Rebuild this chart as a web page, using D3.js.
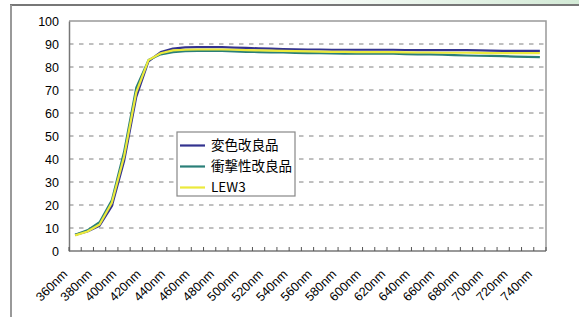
<!DOCTYPE html>
<html>
<head>
<meta charset="utf-8">
<script src="https://cdn.jsdelivr.net/npm/d3@7"></script>
<style>
body { margin: 0; background: #fff; }
.axis-text { font-family: "Liberation Sans", Arial, sans-serif; font-size: 12.5px; fill: #000; }
.legend-text { font-family: "Noto Sans CJK JP", sans-serif; font-size: 13.5px; fill: #000; }
</style>
</head>
<body>
<svg id="chart" width="579" height="317"></svg>
<script>
// wavelengths, 10nm step
var wavelengths = [360,370,380,390,400,410,420,430,440,450,460,470,480,490,500,510,520,530,540,550,
                   560,570,580,590,600,610,620,630,640,650,660,670,680,690,700,710,720,730,740];
var yTicks = [0,10,20,30,40,50,60,70,80,90,100];

var henshoku = [7,8.5,11,19.5,39,67,82.5,86.5,88,88.5,88.6,88.6,88.6,88.4,88.3,88.1,88,87.8,87.7,87.6,
                87.6,87.5,87.5,87.5,87.5,87.5,87.5,87.4,87.3,87.3,87.3,87.3,87.3,87.2,87.1,87,87,87,87];
var shougeki = [7,9,12.5,22,43,71,83,85.5,86.5,86.9,87,87,87,86.8,86.6,86.5,86.4,86.3,86.1,86,
                86,85.9,85.8,85.8,85.8,85.8,85.8,85.6,85.5,85.5,85.4,85.2,85,84.9,84.8,84.7,84.5,84.4,84.3];
var lew3 = [6.8,8.5,11.5,21,41,69,83,86,87.2,87.5,87.6,87.6,87.6,87.5,87.3,87.2,87.1,87,86.9,86.8,
            86.7,86.6,86.6,86.5,86.5,86.5,86.5,86.4,86.3,86.3,86.2,86.2,86.2,86.1,86,86,86,86,86];

var seriesNames = ["変色改良品", "衝撃性改良品", "LEW3"];
var seriesColors = ["#33338f", "#2a7f78", "#ecea3c"];

var svg = d3.select("#chart");
var plotL = 69, plotR = 546, plotT = 21, plotB = 251;

// top band + outer frame
var grad = svg.append("defs").append("linearGradient").attr("id", "topband");
grad.append("stop").attr("offset", "0%").attr("stop-color", "#ffffff");
grad.append("stop").attr("offset", "45%").attr("stop-color", "#ffffff");
grad.append("stop").attr("offset", "100%").attr("stop-color", "#d3ead6");
svg.append("rect").attr("x", 11).attr("y", 0).attr("width", 568).attr("height", 5).attr("fill", "url(#topband)");
svg.append("line").attr("x1", 10).attr("x2", 579).attr("y1", 5).attr("y2", 5)
    .attr("stroke", "#777").attr("stroke-width", 2);
svg.append("line").attr("x1", 11).attr("x2", 11).attr("y1", 5).attr("y2", 317)
    .attr("stroke", "#999").attr("stroke-width", 2);

var x = d3.scaleBand().domain(wavelengths).range([plotL, plotR]);
var y = d3.scaleLinear().domain([0, 100]).range([plotB, plotT]);

// gridlines
svg.append("g").selectAll("line")
    .data(yTicks.filter(function (d) { return d > 0 && d < 100; }))
    .enter().append("line")
    .attr("x1", plotL).attr("x2", plotR)
    .attr("y1", function (d) { return y(d); })
    .attr("y2", function (d) { return y(d); })
    .attr("stroke", "#808080")
    .attr("stroke-dasharray", "4.5,5.5");

// plot frame
svg.append("path")
    .attr("d", "M" + plotL + "," + plotT + "H" + plotR + "V" + plotB)
    .attr("fill", "none").attr("stroke", "#999").attr("stroke-width", 1.5);

// y axis
var yAxis = svg.append("g").attr("transform", "translate(" + plotL + ",0)")
    .call(d3.axisLeft(y).tickValues(yTicks).tickSize(0).tickPadding(10));
yAxis.select(".domain").attr("stroke", "#777").attr("stroke-width", 1.5);
yAxis.selectAll("text").attr("class", "axis-text");

// x axis: ticks between categories, pointing inward
var xAxis = svg.append("g").attr("transform", "translate(0," + plotB + ")");
xAxis.append("line").attr("x1", plotL).attr("x2", plotR).attr("y1", 0).attr("y2", 0)
    .attr("stroke", "#777").attr("stroke-width", 1.5);
xAxis.selectAll(".tk")
    .data(wavelengths.concat(["end"]))
    .enter().append("line")
    .attr("x1", function (d) { return d === "end" ? plotR : x(d); })
    .attr("x2", function (d) { return d === "end" ? plotR : x(d); })
    .attr("y1", 0).attr("y2", -4)
    .attr("stroke", "#555");
xAxis.selectAll("text")
    .data(wavelengths.filter(function (d, i) { return i % 2 === 0; }))
    .enter().append("text")
    .attr("class", "axis-text")
    .attr("font-size", "12px")
    .attr("text-anchor", "end")
    .attr("transform", function (d) {
        return "translate(" + (x(d) + x.bandwidth() / 2 - 7) + ",24) rotate(-45)";
    })
    .text(function (d) { return d + "nm"; });

// series lines
var line = d3.line()
    .x(function (d, i) { return x(wavelengths[i]) + x.bandwidth() / 2; })
    .y(function (d) { return y(d); });
[henshoku, shougeki, lew3].forEach(function (s, i) {
    svg.append("path").datum(s)
        .attr("d", line)
        .attr("fill", "none")
        .attr("stroke", seriesColors[i])
        .attr("stroke-width", 2.2)
        .attr("stroke-linejoin", "round");
});

// legend
var legend = svg.append("g").attr("transform", "translate(177,132)");
legend.append("rect").attr("width", 118).attr("height", 64)
    .attr("fill", "#fff").attr("stroke", "#888").attr("stroke-width", 1.2);
seriesNames.forEach(function (name, i) {
    var ly = 13.5 + i * 21;
    legend.append("line").attr("x1", 3).attr("x2", 28).attr("y1", ly).attr("y2", ly)
        .attr("stroke", seriesColors[i]).attr("stroke-width", 2.2);
    legend.append("text").attr("class", "legend-text")
        .attr("x", 34).attr("y", ly).attr("dy", "0.36em")
        .text(name);
});
</script>
</body>
</html>
